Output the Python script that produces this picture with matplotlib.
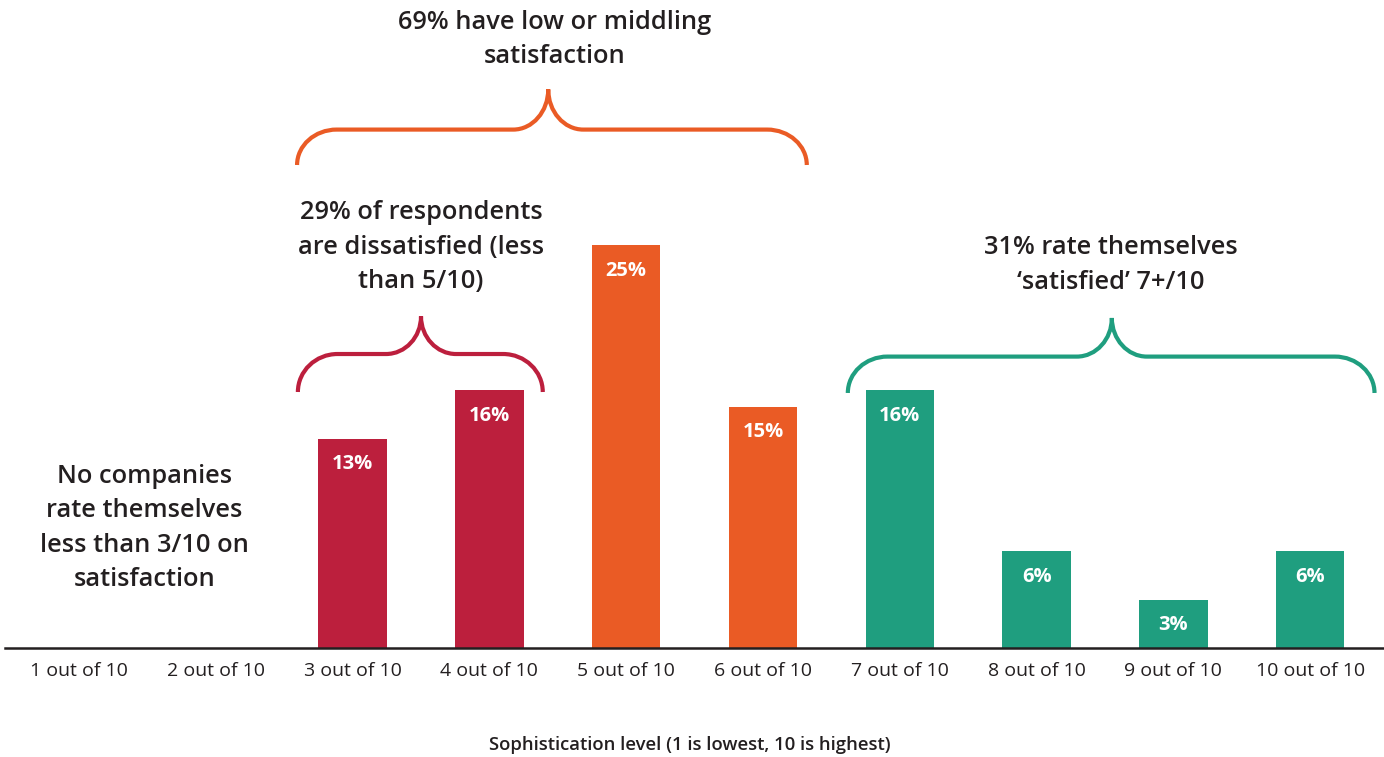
import numpy as np
import matplotlib.pyplot as plt
from matplotlib.path import Path
from matplotlib.patches import PathPatch

plt.rcParams['font.family'] = ['Open Sans', 'DejaVu Sans']

# dados
niveis = [1, 2, 3, 4, 5, 6, 7, 8, 9, 10]
rotulos = [f"{n} out of 10" for n in niveis]
percentuais = [0, 0, 13, 16, 25, 15, 16, 6, 3, 6]
grupos = ['', '', 'red', 'red', 'orange', 'orange', 'green', 'green', 'green', 'green']

CORES = {'red': '#BC1F3D', 'orange': '#EA5B25', 'green': '#1F9E7F', '': '#FFFFFF'}
TEXTO = '#231F20'

fig = plt.figure(figsize=(13.84, 7.57), dpi=100)
ax = fig.add_axes([5 / 1384, 109 / 757, 1379 / 1384, 648 / 757])

# barras
for n, v, g in zip(niveis, percentuais, grupos):
    if v <= 0:
        continue
    ax.bar(n, v, width=0.5, color=CORES[g], zorder=2)
    ax.text(n, v - 1.6, f"{v}%", ha='center', va='center', color='white',
            fontsize=14.5, fontweight='bold', zorder=3)

ax.set_xlim(0.459, 0.459 + 1379 / 136.8)
ax.set_ylim(0, 648 / 16.1)
ax.set_xticks(niveis)
ax.set_xticklabels(rotulos, fontsize=14, color=TEXTO)
ax.tick_params(axis='x', length=0, pad=10)
ax.set_yticks([])
for s in ['top', 'left', 'right']:
    ax.spines[s].set_visible(False)
ax.spines['bottom'].set_linewidth(1.8)
ax.spines['bottom'].set_color('#231F20')


def chave(ax, x0, x1, xm, y0, yh, yp, cor, rx=0.29, mx=0.256):
    """Desenha uma chave horizontal com a ponta virada para cima."""
    k = 0.552
    ry = yh - y0
    my = yp - yh
    verts = [
        (x0, y0),
        (x0, y0 + ry * k), (x0 + rx * (1 - k), yh), (x0 + rx, yh),
        (xm - mx, yh),
        (xm - mx + mx * k, yh), (xm, yp - my * k), (xm, yp),
        (xm, yp - my * k), (xm + mx - mx * k, yh), (xm + mx, yh),
        (x1 - rx, yh),
        (x1 - rx * (1 - k), yh), (x1, y0 + ry * k), (x1, y0),
    ]
    codes = [Path.MOVETO,
             Path.CURVE4, Path.CURVE4, Path.CURVE4,
             Path.LINETO,
             Path.CURVE4, Path.CURVE4, Path.CURVE4,
             Path.CURVE4, Path.CURVE4, Path.CURVE4,
             Path.LINETO,
             Path.CURVE4, Path.CURVE4, Path.CURVE4]
    ax.add_patch(PathPatch(Path(verts, codes), fill=False, edgecolor=cor,
                           linewidth=3, capstyle='butt', clip_on=False, zorder=4))


chave(ax, 2.594, 6.32, 4.43, 30.0, 32.2, 34.7, CORES['orange'])
chave(ax, 2.60, 4.39, 3.50, 15.9, 18.26, 20.6, CORES['red'])
chave(ax, 6.62, 10.47, 8.55, 15.84, 18.1, 20.5, CORES['green'])

# anotações
opts = dict(ha='center', va='center', color=TEXTO, fontsize=18.3, linespacing=1.5,
            fontweight='semibold')
ax.text(4.48, 37.8, "69% have low or middling\nsatisfaction", **opts)
ax.text(3.5, 24.9, "29% of respondents\nare dissatisfied (less\nthan 5/10)", **opts)
ax.text(8.54, 23.8, "31% rate themselves\n\u2018satisfied\u2019 7+/10", **opts)
ax.text(1.48, 7.45, "No companies\nrate themselves\nless than 3/10 on\nsatisfaction", **opts)

fig.text(690 / 1384, 1 - 745 / 757, "Sophistication level (1 is lowest, 10 is highest)",
         ha='center', va='center', color=TEXTO, fontsize=13.3, fontweight='semibold')

fig.savefig('out.png', dpi=100)
